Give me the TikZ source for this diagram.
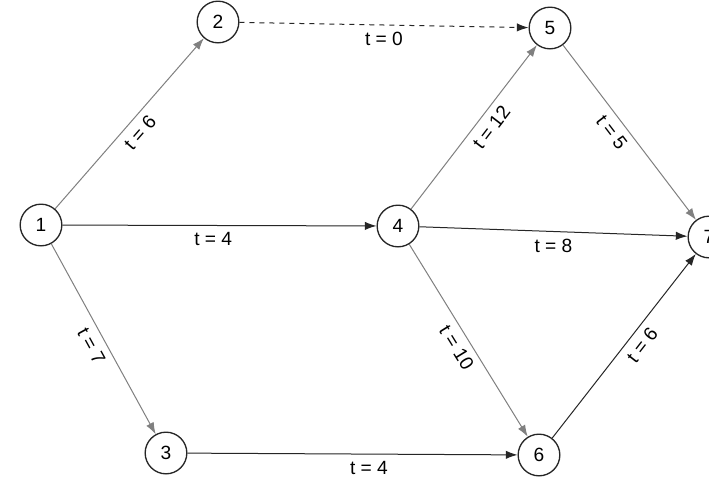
\documentclass[tikz,border=0pt]{standalone}
\usepackage{fontspec}
\setmainfont{Liberation Sans}
\usepackage{xcolor}
\usetikzlibrary{arrows.meta, positioning}

\begin{document}
\begin{tikzpicture}[
    x=0.6pt, y=-0.6pt,
    event/.style={circle, draw=black!85, thick, minimum size=25pt,
                  inner sep=0pt, font=\fontsize{11.5}{13}\selectfont},
    arr/.style={-{Latex[length=7pt, width=5pt]}, semithick, black!85},
    lite/.style={black!50},
    lbl/.style={font=\fontsize{11.5}{13}\selectfont, inner sep=4pt, text=black}
]
\useasboundingbox[fill=white] (0,0) rectangle (709,494);

\node[event] (e1) at (41,225)  {1};
\node[event] (e2) at (218,22)  {2};
\node[event] (e5) at (550,28)  {5};
\node[event] (e4) at (398,226) {4};
\node[event] (e7) at (709,237) {7};
\node[event] (e3) at (166,453) {3};
\node[event] (e6) at (539,455) {6};

\draw[arr, lite] (e1) -- node[lbl, below, sloped]{t = 6} (e2);
\draw[arr, dashed] (e2) -- node[lbl, below]{t = 0} (e5);
\draw[arr] (e1) -- node[lbl, below, pos=0.48]{t = 4} (e4);
\draw[arr, lite] (e1) -- node[lbl, below, sloped]{t = 7} (e3);
\draw[arr, lite] (e4) -- node[lbl, below, sloped, pos=0.55]{t = 12} (e5);
\draw[arr] (e4) -- node[lbl, below, pos=0.5]{t = 8} (e7);
\draw[arr, lite] (e4) -- node[lbl, below, sloped]{t = 10} (e6);
\draw[arr, lite] (e5) -- node[lbl, below, sloped, pos=0.45]{t = 5} (e7);
\draw[arr] (e3) -- node[lbl, below, pos=0.55]{t = 4} (e6);
\draw[arr] (e6) -- node[lbl, below, sloped, pos=0.55]{t = 6} (e7);
\end{tikzpicture}
\end{document}
